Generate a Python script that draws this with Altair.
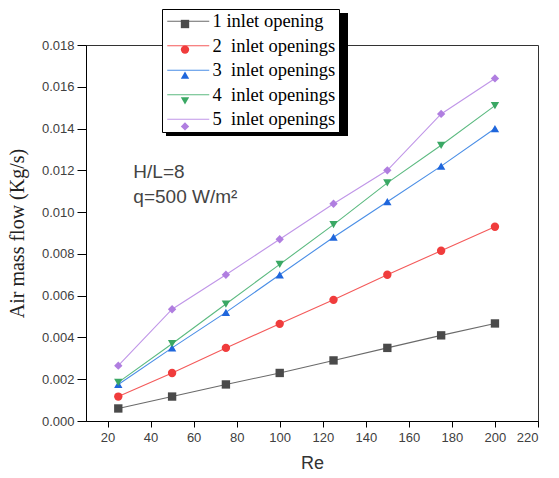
import altair as alt
import pandas as pd

NB = "\u00a0"
re_vals = [25, 50, 75, 100, 125, 150, 175, 200]
series_names = ["1 inlet opening", "2" + NB * 2 + "inlet openings", "3" + NB * 2 + "inlet openings",
                "4" + NB * 2 + "inlet openings", NB + "5" + NB * 2 + "inlet openings"]
s1 = [0.0006, 0.00117, 0.00175, 0.0023, 0.0029, 0.0035, 0.0041, 0.00467]
s2 = [0.00117, 0.0023, 0.0035, 0.00465, 0.0058, 0.0070, 0.00815, 0.0093]
s3 = [0.00175, 0.0035, 0.0052, 0.0070, 0.0088, 0.0105, 0.0122, 0.0140]
s4 = [0.00185, 0.0037, 0.0056, 0.0075, 0.0094, 0.0114, 0.0132, 0.0151]
s5 = [0.00265, 0.00535, 0.0070, 0.0087, 0.0104, 0.0120, 0.0147, 0.0164]
marker_colors = ["#4a4a4a", "#f03c3c", "#1f66dc", "#3aa864", "#b07ee0"]
line_colors = ["#6a6a6a", "#f45a5a", "#4a8ee6", "#5cba80", "#c096e8"]
shapes = ["square", "circle", "triangle-up", "triangle-down", "diamond"]
marker_names = [n + " m" for n in series_names]
x_ticks = list(range(20, 221, 20))
y_ticks = [i / 1000 for i in range(0, 19)]

rows = []
for name, mname, vals in zip(series_names, marker_names, [s1, s2, s3, s4, s5]):
    for x, y in zip(re_vals, vals):
        rows.append({"Re": x, "flow": y, "series": name, "series_m": mname})
df = pd.DataFrame(rows)

x_axis = alt.Axis(
    title="Re", values=x_ticks, tickSize=6,
    titleFont="Liberation Sans", titleFontSize=18, titleFontWeight="normal",
    titleColor="#333333", titlePadding=10,
    labelFont="Liberation Sans", labelFontSize=13, labelColor="#404040",
    labelPadding=4, domainColor="#000000", tickColor="#000000", grid=False)
x_scale = alt.Scale(domain=[10, 220], nice=False)
x_enc = alt.X("Re:Q", scale=x_scale, axis=x_axis)
y_enc = alt.Y("flow:Q", scale=alt.Scale(domain=[0, 0.018], nice=False),
              axis=alt.Axis(
                  title="Air mass flow (Kg/s)", values=y_ticks,
                  labelExpr="round(datum.value*1000) % 2 == 0 ? format(datum.value, '.3f') : ''",
                  labelOverlap=False,
                  tickSize={"condition": {"test": "round(datum.value*1000) % 2 == 0", "value": 9}, "value": 4},
                  titleFont="Liberation Serif", titleFontSize=20, titleFontWeight="normal",
                  titleColor="#222222", titlePadding=14,
                  labelFont="Liberation Sans", labelFontSize=13, labelColor="#404040",
                  labelPadding=3, domainColor="#000000", tickColor="#000000",
                  grid=False))

shadow = alt.Chart(df).transform_calculate(sh="'shadow'").mark_point(
    filled=True, opacity=0).encode(
    x=x_enc, y=y_enc,
    color=alt.Color("sh:N", scale=alt.Scale(domain=["shadow"], range=["#000000"]),
                    legend=alt.Legend(
                        title=None, orient="none", legendX=80, legendY=-61.5,
                        symbolType="M-1,-0.676H1V0.676H-1Z", symbolSize=33124,
                        symbolOpacity=1, symbolFillColor="#000000", symbolStrokeWidth=0,
                        labelExpr="''", padding=0, labelOffset=0)),
)

lines = alt.Chart(df).mark_line(strokeWidth=1.1).encode(
    x=x_enc, y="flow:Q",
    stroke=alt.Stroke("series:N", sort=series_names,
                      scale=alt.Scale(domain=series_names, range=line_colors),
                      legend=alt.Legend(
                          title=None, orient="none", legendX=76, legendY=-36,
                          symbolType="M-4.2,0H4.2", symbolSize=100, symbolStrokeWidth=1.2,
                          symbolOffset=14,
                          labelFont="Liberation Serif", labelFontSize=18.5, labelColor="#000000",
                          fillColor="white", strokeColor="black", padding=3,
                          rowPadding=5.5, labelOffset=15, labelLimit=300)),
)
points = alt.Chart(df).mark_point(filled=True, size=70, opacity=1).encode(
    x=x_enc, y="flow:Q",
    fill=alt.Fill("series_m:N", sort=marker_names,
                  scale=alt.Scale(domain=marker_names, range=marker_colors),
                  legend=alt.Legend(
                      title=None, orient="none", legendX=91, legendY=-29,
                      symbolSize=70, symbolStrokeWidth=0,
                      labelExpr="''", padding=3, rowPadding=15.6, labelOffset=0)),
    shape=alt.Shape("series_m:N", sort=marker_names,
                    scale=alt.Scale(domain=marker_names, range=shapes)),
)

notes = pd.DataFrame({"t": ["H/L=8", "q=500 W/m\u00b2"], "Re": [32, 32], "flow": [0.01192, 0.01072]})
text = alt.Chart(notes).mark_text(align="left", font="Liberation Sans", fontSize=19,
                                  color="#444444").encode(x=x_enc, y="flow:Q", text="t:N")

chart = alt.layer(shadow, lines, points, text).properties(
    width=452, height=376,
    autosize=alt.AutoSizeParams(type="none"),
    padding={"left": 86, "top": 45, "right": 21, "bottom": 57},
).configure_view(stroke="#333333", strokeWidth=1)

chart.save("out.html", embed_options={"renderer": "svg", "actions": False})
